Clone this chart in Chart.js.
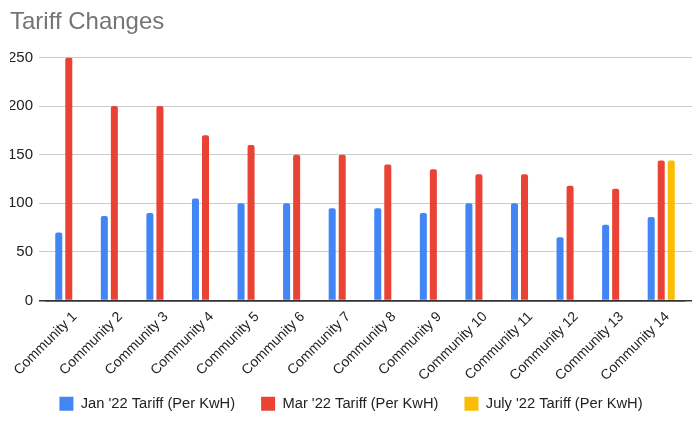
<!DOCTYPE html>
<html>
<head>
<meta charset="utf-8">
<script src="https://cdn.jsdelivr.net/npm/chart.js@4"></script>
<style>
  html, body { margin: 0; padding: 0; background: #fff; }
  #wrap { width: 700px; height: 427px; }
</style>
</head>
<body>
<div id="wrap"><canvas id="myChart"></canvas></div>
<script>
const communities = ['Community 1', 'Community 2', 'Community 3', 'Community 4', 'Community 5',
    'Community 6', 'Community 7', 'Community 8', 'Community 9', 'Community 10',
    'Community 11', 'Community 12', 'Community 13', 'Community 14'];
const janTariff = [70, 87, 90, 105, 100, 100, 95, 95, 90, 100, 100, 65, 78, 86];
const marTariff = [250, 200, 200, 170, 160, 150, 150, 140, 135, 130, 130, 118, 115, 144];
const julyTariff = [null, null, null, null, null, null, null, null, null, null, null, null, null, 144];
const yTicks = [0, 50, 100, 150, 200, 250];

const font = 'Arial, "Liberation Sans", sans-serif';

function bar(label, data, color) {
    return {
        label: label,
        data: data,
        backgroundColor: color,
        borderRadius: 2,
        barPercentage: 0.7,
        categoryPercentage: 0.66
    };
}

// grid colour: dark baseline at zero, light grey elsewhere
const gridColor = (ctx) => ctx.tick && ctx.tick.value === 0 ? '#333' : '#cccccc';
const gridWidth = (ctx) => ctx.tick && ctx.tick.value === 0 ? 1.5 : 1;

// rotated x labels run below the axis box, so let them draw down to the canvas edge
const unclipLabels = {
    id: 'unclipLabels',
    afterLayout(chart) {
        chart.scales.x.bottom = chart.height;
    }
};

new Chart(document.getElementById('myChart').getContext('2d'), {
    type: 'bar',
    data: {
        labels: communities,
        datasets: [
            bar("Jan '22 Tariff (Per KwH)", janTariff, '#4285F4'),
            bar("Mar '22 Tariff (Per KwH)", marTariff, '#EA4335'),
            bar("July '22 Tariff (Per KwH)", julyTariff, '#FBBC04')
        ]
    },
    plugins: [unclipLabels],
    options: {
        responsive: true,
        maintainAspectRatio: false,
        animation: false,
        layout: { padding: { left: 10, right: 8, top: 0, bottom: 6 } },
        plugins: {
            title: {
                display: true,
                text: 'Tariff Changes',
                align: 'start',
                color: '#757575',
                font: { family: font, size: 24, weight: 'normal' },
                padding: { top: 7.5, bottom: 21.2 }
            },
            legend: {
                position: 'bottom',
                labels: {
                    boxWidth: 14,
                    boxHeight: 14,
                    padding: 26,
                    color: '#222',
                    font: { family: font, size: 14.7 }
                }
            },
            tooltip: { enabled: false }
        },
        scales: {
            x: {
                grid: { display: false },
                border: { display: true, color: '#333', width: 1.5 },
                ticks: {
                    color: '#222',
                    font: { family: font, size: 14 },
                    minRotation: 45,
                    maxRotation: 45,
                    padding: 0,
                    labelOffset: 6
                },
                afterFit: (scale) => { scale.height = 69.8; }
            },
            y: {
                min: 0,
                max: 250,
                afterBuildTicks: (scale) => { scale.ticks = yTicks.map(v => ({ value: v })); },
                grid: { color: gridColor, lineWidth: gridWidth, tickLength: 7 },
                border: { display: false },
                ticks: {
                    color: '#222',
                    font: { family: font, size: 15 },
                    padding: 6
                },
                afterFit: (scale) => { scale.width = 36; }
            },
            y2: {
                position: 'right',
                min: 0,
                max: 250,
                afterBuildTicks: (scale) => { scale.ticks = yTicks.map(v => ({ value: v })); },
                grid: { color: gridColor, lineWidth: gridWidth, tickLength: 8, drawOnChartArea: false },
                border: { display: false },
                ticks: { display: false },
                afterFit: (scale) => { scale.width = 8; }
            }
        }
    }
});
</script>
</body>
</html>
